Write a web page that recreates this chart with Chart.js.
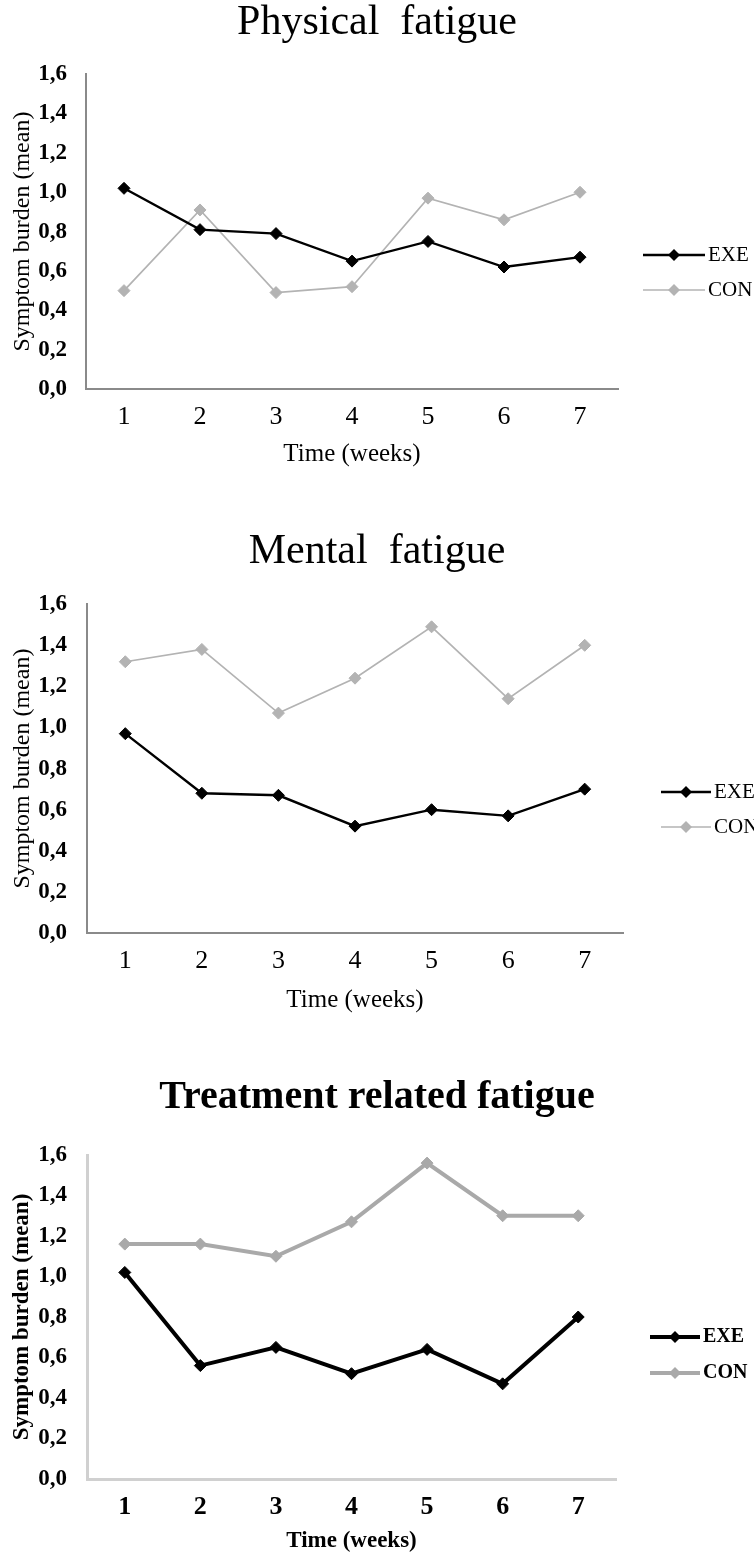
<!DOCTYPE html>
<html>
<head>
<meta charset="utf-8">
<script src="https://cdn.jsdelivr.net/npm/chart.js"></script>
<style>
  body { margin: 0; background: #fff; }
  .box { position: absolute; left: 0; width: 754px; }
</style>
</head>
<body>
<div class="box" style="top:0px"><canvas id="physical" width="754" height="520"></canvas></div>
<div class="box" style="top:520px"><canvas id="mental" width="754" height="520"></canvas></div>
<div class="box" style="top:1040px"><canvas id="treatment" width="754" height="518"></canvas></div>
<script>
// categories and tick labels
var weeks = ['1', '2', '3', '4', '5', '6', '7'];
var yTickLabels = ['0,0', '0,2', '0,4', '0,6', '0,8', '1,0', '1,2', '1,4', '1,6'];
var seriesNames = ['EXE', 'CON'];

// mean symptom burden per week
var physicalExe = [1.02, 0.81, 0.79, 0.65, 0.75, 0.62, 0.67];
var physicalCon = [0.50, 0.91, 0.49, 0.52, 0.97, 0.86, 1.00];
var mentalExe = [0.97, 0.68, 0.67, 0.52, 0.60, 0.57, 0.70];
var mentalCon = [1.32, 1.38, 1.07, 1.24, 1.49, 1.14, 1.40];
var treatmentExe = [1.02, 0.56, 0.65, 0.52, 0.64, 0.47, 0.80];
var treatmentCon = [1.16, 1.16, 1.10, 1.27, 1.56, 1.30, 1.30];

Chart.defaults.font.family = "'Liberation Serif', 'Times New Roman', serif";
Chart.defaults.color = '#000';

// legend drawn as line + diamond, like the spreadsheet legend
var sideLegend = {
    id: 'sideLegend',
    afterDraw: function(chart, args, opts) {
        var ctx = chart.ctx;
        chart.data.datasets.forEach(function(ds, i) {
            var y = opts.y + i * opts.gap;
            var cx = opts.x + opts.len / 2;
            var r = ds.pointRadius;
            ctx.save();
            ctx.strokeStyle = ds.borderColor;
            ctx.lineWidth = ds.borderWidth;
            ctx.beginPath();
            ctx.moveTo(opts.x, y);
            ctx.lineTo(opts.x + opts.len, y);
            ctx.stroke();
            ctx.fillStyle = ds.borderColor;
            ctx.beginPath();
            ctx.moveTo(cx, y - r);
            ctx.lineTo(cx + r, y);
            ctx.lineTo(cx, y + r);
            ctx.lineTo(cx - r, y);
            ctx.closePath();
            ctx.fill();
            ctx.fillStyle = '#000';
            ctx.font = opts.font;
            ctx.textBaseline = 'middle';
            ctx.textAlign = 'left';
            ctx.fillText(ds.label, opts.x + opts.len + 3, y);
            ctx.restore();
        });
    }
};

function makeChart(id, s) {
    var weight = s.bold ? 'bold' : 'normal';
    var ctx = document.getElementById(id).getContext('2d');
    return new Chart(ctx, {
        type: 'line',
        data: {
            labels: weeks,
            datasets: [{
                label: seriesNames[0],
                data: s.exe,
                borderColor: '#000',
                backgroundColor: '#000',
                borderWidth: s.exeWidth,
                pointStyle: 'rectRot',
                pointRadius: s.marker,
                pointBorderWidth: 1,
                tension: 0
            }, {
                label: seriesNames[1],
                data: s.con,
                borderColor: s.conColor,
                backgroundColor: s.conColor,
                borderWidth: s.conWidth,
                pointStyle: 'rectRot',
                pointRadius: s.marker,
                pointBorderWidth: 1,
                tension: 0
            }]
        },
        options: {
            responsive: false,
            animation: false,
            layout: { padding: { left: 0, top: 0, right: 0, bottom: s.padBottom } },
            plugins: {
                legend: { display: false },
                tooltip: { enabled: false },
                title: {
                    display: true,
                    text: s.title,
                    font: { size: s.titleSize, weight: weight, lineHeight: 1.1 },
                    color: '#000',
                    padding: { top: s.titleTop, bottom: s.titleBottom }
                },
                sideLegend: s.legend
            },
            scales: {
                x: {
                    offset: true,
                    grid: { display: false, drawTicks: false },
                    border: { display: true, color: s.axisColor, width: s.axisWidth },
                    ticks: { padding: 13, font: { size: 26, weight: weight } },
                    title: {
                        display: true,
                        text: 'Time (weeks)',
                        font: { size: s.xTitleSize, weight: weight, lineHeight: 1.2 },
                        padding: 0
                    },
                    afterFit: function(scale) { scale.height = s.xHeight; }
                },
                y: {
                    min: 0,
                    max: 1.6,
                    grid: { display: false, drawTicks: false },
                    border: { display: true, color: s.axisColor, width: s.axisWidth },
                    ticks: {
                        stepSize: 0.2,
                        padding: s.yTickPad,
                        font: { size: 23, weight: 'bold' },
                        callback: function(value, index) { return yTickLabels[index]; }
                    },
                    title: {
                        display: true,
                        text: 'Symptom burden (mean)',
                        font: { size: s.yTitleSize, weight: weight, lineHeight: 1.2 },
                        padding: 8
                    },
                    afterFit: function(scale) { scale.width = s.yWidth; }
                },
                // empty right-hand band that leaves room for the legend
                side: {
                    position: 'right',
                    grid: { display: false, drawTicks: false },
                    border: { display: false },
                    ticks: { display: false },
                    afterFit: function(scale) { scale.width = s.padRight; }
                }
            }
        },
        plugins: [sideLegend]
    });
}

makeChart('physical', {
    title: 'Physical  fatigue', titleSize: 42, bold: false, titleTop: 0, titleBottom: 28,
    exe: physicalExe, con: physicalCon, conColor: '#b3b3b3', exeWidth: 2.4, conWidth: 1.7, marker: 6,
    axisColor: '#8a8a8a', axisWidth: 2, padRight: 136, padBottom: 51, xHeight: 80, yWidth: 86,
    yTickPad: 19, xTitleSize: 25, yTitleSize: 24,
    legend: { x: 643, y: 255, gap: 35, len: 62, font: '21px "Liberation Serif"' }
});

makeChart('mental', {
    title: 'Mental  fatigue', titleSize: 42, bold: false, titleTop: 9, titleBottom: 29,
    exe: mentalExe, con: mentalCon, conColor: '#b3b3b3', exeWidth: 2.4, conWidth: 1.7, marker: 6,
    axisColor: '#8a8a8a', axisWidth: 2, padRight: 131, padBottom: 25, xHeight: 82, yWidth: 87,
    yTickPad: 20, xTitleSize: 25, yTitleSize: 24,
    legend: { x: 661, y: 272, gap: 35, len: 50, font: '21px "Liberation Serif"' }
});

makeChart('treatment', {
    title: 'Treatment related fatigue', titleSize: 40, bold: true, titleTop: 36, titleBottom: 35,
    exe: treatmentExe, con: treatmentCon, conColor: '#a9a9a9', exeWidth: 4, conWidth: 4, marker: 6,
    axisColor: '#d0d0d0', axisWidth: 3, padRight: 138, padBottom: 3, xHeight: 76, yWidth: 87,
    yTickPad: 20, xTitleSize: 23, yTitleSize: 23,
    legend: { x: 650, y: 297, gap: 36, len: 50, font: 'bold 20px "Liberation Serif"' }
});
</script>
</body>
</html>
